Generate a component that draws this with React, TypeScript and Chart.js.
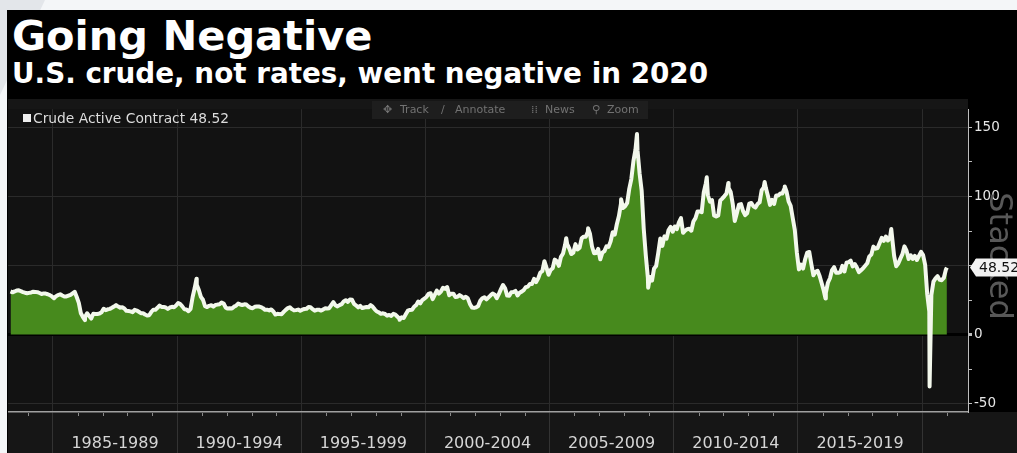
import React, { useEffect, useRef } from "react";
import { Chart, registerables } from "chart.js";

Chart.register(...registerables);

// Monthly WTI front-month prices (USD/bbl)
const wti1983_1984 = [31.2, 30.6, 31.2, 31.9, 32.1, 31.4, 30.8, 30.3, 29.9,
  30.2, 30.5, 31.0, 30.9, 30.7, 30.1, 29.4, 29.8, 29.7, 29.2, 28.6, 27.6];
const wti1985_1989 = [
  26.3, 27.8, 28.6, 29.2, 28.3, 27.6, 27.6, 28.2, 28.8, 29.9, 31.0, 27.2,
  22.9, 15.4, 12.6, 12.8, 15.4, 13.4, 11.6, 15.1, 14.9, 14.9, 15.2, 16.1,
  18.7, 17.7, 18.3, 18.6, 19.4, 20.3, 21.4, 20.3, 19.5, 19.8, 18.9, 17.2,
  17.1, 16.8, 16.2, 17.9, 17.4, 16.5, 15.5, 15.5, 14.5, 13.8, 14.0, 16.3,
  18.0, 17.9, 19.4, 21.0, 20.0, 20.0, 19.6, 18.5, 19.6, 20.1, 19.8, 21.1];
const wti1990_1994 = [
  22.9, 22.1, 20.4, 18.4, 18.2, 16.9, 18.6, 27.2, 33.7, 36.0, 32.3, 27.3,
  25.2, 20.5, 19.9, 20.8, 21.2, 20.2, 21.4, 21.7, 21.9, 23.2, 22.5, 19.5,
  18.8, 19.0, 18.9, 20.2, 20.9, 22.4, 21.8, 21.4, 21.9, 21.7, 20.3, 19.4,
  19.1, 20.1, 20.3, 20.3, 19.9, 19.1, 17.9, 18.0, 17.5, 18.2, 16.7, 14.5,
  15.0, 14.8, 14.7, 16.4, 17.9, 19.1, 19.7, 18.4, 17.5, 17.7, 18.1, 17.2];
const wti1995_1999 = [
  18.0, 18.5, 18.6, 19.9, 19.7, 18.4, 17.3, 17.9, 18.0, 17.4, 18.0, 19.0,
  18.9, 19.1, 21.3, 23.5, 21.2, 20.4, 21.3, 22.0, 24.0, 24.9, 23.7, 25.4,
  25.2, 22.2, 21.0, 19.7, 20.8, 19.2, 19.6, 19.9, 19.8, 21.3, 20.2, 18.3,
  16.7, 16.1, 15.0, 15.4, 14.9, 13.7, 14.2, 13.5, 15.0, 14.4, 12.9, 11.3,
  12.5, 12.0, 14.7, 17.3, 17.8, 17.9, 20.1, 21.3, 23.9, 22.6, 25.0, 26.1];
const wti2000_2004 = [
  27.2, 29.4, 29.9, 25.7, 28.8, 31.8, 29.7, 31.2, 33.9, 33.1, 34.4, 28.5,
  29.6, 29.6, 27.2, 27.4, 28.6, 27.6, 26.4, 27.4, 26.2, 22.2, 19.6, 19.3,
  19.7, 20.7, 24.4, 26.3, 27.0, 25.5, 26.9, 28.4, 29.7, 28.9, 26.3, 29.4,
  32.9, 35.9, 33.5, 28.2, 28.1, 30.7, 30.8, 31.6, 28.3, 30.3, 31.1, 32.2,
  34.3, 34.7, 36.7, 36.7, 40.3, 38.0, 40.7, 44.9, 45.9, 53.1, 48.5, 43.3];
const wti2005_2009 = [
  46.8, 48.0, 54.3, 53.0, 49.8, 56.3, 58.7, 65.0, 65.6, 62.4, 58.3, 59.4,
  65.5, 61.6, 62.9, 69.7, 70.9, 70.9, 74.4, 73.1, 63.8, 58.9, 59.1, 62.0,
  54.5, 59.3, 60.4, 63.9, 63.5, 67.5, 74.1, 72.4, 79.9, 85.8, 94.8, 91.7,
  93.0, 95.4, 105.5, 112.6, 125.4, 133.9, 133.4, 116.7, 104.1, 76.6, 57.3, 41.1,
  41.7, 39.1, 47.9, 49.7, 59.0, 69.6, 64.2, 71.1, 69.4, 75.7, 78.0, 74.5];
const wti2010_2014 = [
  78.3, 76.4, 81.2, 84.3, 73.7, 75.3, 76.3, 76.6, 75.2, 81.9, 84.3, 89.2,
  89.2, 88.6, 102.9, 109.5, 100.9, 96.3, 97.3, 86.3, 85.5, 86.3, 97.2, 98.6,
  100.3, 102.2, 106.2, 103.3, 94.7, 82.3, 87.9, 94.1, 94.5, 89.5, 86.5, 87.9,
  94.8, 95.3, 92.9, 92.0, 94.5, 95.8, 104.6, 106.6, 106.3, 100.5, 93.9, 97.6,
  94.6, 100.8, 100.8, 102.1, 102.2, 105.8, 103.6, 96.5, 93.2, 84.4, 75.8, 59.3];
const wti2015_2019 = [
  47.2, 50.6, 47.8, 54.5, 59.3, 59.8, 50.9, 42.9, 45.5, 46.2, 42.4, 37.2,
  31.7, 30.3, 37.5, 40.8, 46.7, 48.8, 44.7, 44.7, 45.2, 49.8, 45.7, 52.0,
  52.5, 53.5, 49.3, 51.1, 48.5, 45.2, 46.6, 48.0, 49.8, 51.6, 56.6, 57.9,
  63.7, 62.2, 62.7, 66.3, 70.0, 67.9, 71.0, 68.1, 70.2, 70.8, 57.0, 49.5,
  51.4, 55.0, 58.2, 63.9, 60.8, 54.7, 57.4, 54.8, 57.0, 54.0, 57.0, 59.9];
const wti2020 = [57.5, 50.5, 29.2, 16.6, 28.6, 38.3, 40.7, 42.3, 39.6, 39.4, 41.0, 47.0];

// First month of each block (fractional year)
const blockStarts = [1983.25, 1985, 1990, 1995, 2000, 2005, 2010, 2015, 2020];

// Intra-month extremes visible on the chart
const extremeDates = [1986.29, 1990.78, 1998.96, 2005.67, 2006.55, 2007.88, 2008.52, 2008.97,
  2011.33, 2012.2, 2013.66, 2014.47, 2016.11, 2018.76, 2020.303, 2021.0];
const extremeValues = [10.4, 40.4, 10.7, 69.8, 77.0, 98.0, 145.3, 33.9,
  113.9, 109.8, 110.5, 107.3, 26.2, 76.4, -37.6, 48.52];

const lastValue = 48.52;
const seriesLabel = "Crude Active Contract 48.52";

const periodBounds = [1985, 1990, 1995, 2000, 2005, 2010, 2015, 2020];
const periodMids = [1987.5, 1992.5, 1997.5, 2002.5, 2007.5, 2012.5, 2017.5];
const periodLabels = ["1985-1989", "1990-1994", "1995-1999", "2000-2004", "2005-2009", "2010-2014", "2015-2019"];
const yTickValues = [-50, -25, 0, 25, 50, 75, 100, 125, 150];
const yLabelValues = [-50, 0, 50, 100, 150];

const blocks = [wti1983_1984, wti1985_1989, wti1990_1994, wti1995_1999, wti2000_2004,
  wti2005_2009, wti2010_2014, wti2015_2019, wti2020];

function buildPoints() {
  const pts: { x: number; y: number }[] = [];
  blocks.forEach((arr, i) => {
    arr.forEach((v, m) => pts.push({ x: blockStarts[i] + (m + 0.5) / 12, y: v }));
  });
  extremeDates.forEach((d, i) => pts.push({ x: d, y: extremeValues[i] }));
  pts.sort((a, b) => a.x - b.x);
  return pts;
}

const bgPlugin = {
  id: "bgPanels",
  beforeDraw(chart: any) {
    const { ctx, chartArea: a, width, height } = chart;
    ctx.save();
    ctx.fillStyle = "#161616";
    ctx.fillRect(0, 0, width, height);
    ctx.fillStyle = "#000";
    ctx.fillRect(a.right, 0, width - a.right, a.bottom);
    ctx.fillStyle = "#121212";
    ctx.fillRect(a.left, a.top, a.right - a.left, a.bottom - a.top);
    ctx.restore();
  },
};

const overlayPlugin = {
  id: "overlay",
  afterDraw(chart: any) {
    const { ctx, chartArea: a, width } = chart;
    const xs = chart.scales.x;
    const ys = chart.scales.y;
    ctx.save();
    // yearly minor ticks
    ctx.strokeStyle = "#8a8a8a";
    ctx.lineWidth = 1;
    for (let yr = 1984; yr <= 2021; yr++) {
      if (yr % 5 === 0) continue;
      const px = Math.round(xs.getPixelForValue(yr)) + 0.5;
      ctx.beginPath();
      ctx.moveTo(px, a.bottom + 1);
      ctx.lineTo(px, a.bottom + 4);
      ctx.stroke();
    }
    // "Stacked" watermark
    ctx.save();
    ctx.translate(982, 157);
    ctx.rotate(Math.PI / 2);
    ctx.font = '32px "DejaVu Sans"';
    ctx.fillStyle = "#585858";
    ctx.textAlign = "center";
    ctx.textBaseline = "alphabetic";
    ctx.fillText("Stacked", 0, 0);
    ctx.restore();
    // last value tag
    const y = ys.getPixelForValue(lastValue);
    const x0 = a.right + 2;
    ctx.fillStyle = "#f2f2f2";
    ctx.beginPath();
    ctx.moveTo(x0, y);
    ctx.lineTo(x0 + 6, y - 9);
    ctx.lineTo(width, y - 9);
    ctx.lineTo(width, y + 9);
    ctx.lineTo(x0 + 6, y + 9);
    ctx.closePath();
    ctx.fill();
    ctx.fillStyle = "#111";
    ctx.font = '14px "DejaVu Sans"';
    ctx.textBaseline = "middle";
    ctx.textAlign = "left";
    ctx.fillText(lastValue.toFixed(2), x0 + 9, y + 0.5);
    ctx.restore();
  },
};

export default function App() {
  const ref = useRef<HTMLCanvasElement>(null);
  useEffect(() => {
    document.body.style.margin = "0";
    const chart = new Chart(ref.current as HTMLCanvasElement, {
      type: "line",
      data: {
        datasets: [
          {
            label: seriesLabel,
            data: buildPoints(),
            borderColor: "#f3f8ec",
            borderWidth: 4,
            backgroundColor: "#478a1d",
            fill: "origin",
            pointRadius: 0,
            tension: 0,
            borderJoinStyle: "round",
          } as any,
        ],
      },
      options: {
        animation: false,
        responsive: false,
        layout: { padding: 0 },
        plugins: { legend: { display: false }, tooltip: { enabled: false } },
        scales: {
          x: {
            type: "linear",
            min: 1983.19,
            max: 2021.85,
            afterBuildTicks: (scale: any) => {
              const vals = [...periodBounds, ...periodMids].sort((a, b) => a - b);
              scale.ticks = vals.map((v) => ({ value: v }));
            },
            afterFit: (scale: any) => {
              scale.height = 41;
            },
            ticks: {
              autoSkip: false,
              maxRotation: 0,
              padding: -19,
              color: "#d6d6d6",
              font: { family: "DejaVu Sans", size: 16 },
              callback: (value: any) => {
                const i = periodMids.indexOf(Number(value));
                return i >= 0 ? periodLabels[i] : "";
              },
            },
            grid: {
              color: (c: any) => (c.tick && periodBounds.includes(c.tick.value) ? "#2b2b2b" : "rgba(0,0,0,0)"),
              tickColor: (c: any) => (c.tick && periodBounds.includes(c.tick.value) ? "#333" : "rgba(0,0,0,0)"),
              tickLength: 41,
              lineWidth: 1,
            },
            border: { color: "#a0a0a0", width: 1.5 },
          },
          y: {
            type: "linear",
            position: "right",
            min: -56.1,
            max: 163.3,
            afterBuildTicks: (scale: any) => {
              scale.ticks = yTickValues.map((v) => ({ value: v }));
            },
            afterFit: (scale: any) => {
              scale.width = 49;
            },
            ticks: {
              autoSkip: false,
              padding: 2,
              color: "#e6e6e6",
              font: { family: "DejaVu Sans", size: 13.5 },
              callback: (value: any) => (yLabelValues.includes(Number(value)) ? String(value) : ""),
            },
            grid: {
              color: (c: any) => {
                const v = c.tick ? c.tick.value : 1;
                if (v === 0) return "#000";
                return yLabelValues.includes(v) ? "#2a2a2a" : "rgba(0,0,0,0)";
              },
              lineWidth: (c: any) => (c.tick && c.tick.value === 0 ? 3 : 1),
              tickColor: "#bdbdbd",
              tickLength: 4,
            },
            border: { color: "#bdbdbd", width: 1 },
          },
        },
      },
      plugins: [bgPlugin, overlayPlugin],
    } as any);
    return () => chart.destroy();
  }, []);

  const font = '"DejaVu Sans", sans-serif';
  const tool = { position: "absolute" as const, top: 102, color: "#727272", fontSize: 11, lineHeight: "16px", whiteSpace: "nowrap" as const };
  return (
    <div style={{ position: "relative", width: 1017, height: 453, overflow: "hidden", background: "#f4f6f8", fontFamily: font }}>
      <div style={{ position: "absolute", left: 0, top: 0, width: 60, height: 100, background: "#e3e6ea", clipPath: "polygon(0 0, 45px 0, 0 95px)" }} />
      <div style={{ position: "absolute", left: 7, top: 10, right: 0, bottom: 0, background: "#000" }} />
      <div style={{ position: "absolute", left: 12, top: 15, color: "#fff", fontWeight: "bold", fontSize: 41.5, lineHeight: "41px", whiteSpace: "nowrap" }}>
        Going Negative
      </div>
      <div style={{ position: "absolute", left: 12, top: 60, color: "#fff", fontWeight: "bold", fontSize: 27.8, lineHeight: "27.5px", whiteSpace: "nowrap" }}>
        U.S. crude, not rates, went negative in 2020
      </div>
      <canvas ref={ref} width={1009} height={354} style={{ position: "absolute", left: 8, top: 99, width: 1009, height: 354, display: "block" }} />
      <div style={{ position: "absolute", left: 23, top: 114, width: 8, height: 8, background: "#eeeeee" }} />
      <div style={{ position: "absolute", left: 33, top: 110, color: "#dcdcdc", fontSize: 13.8, lineHeight: "16px", whiteSpace: "nowrap" }}>
        {seriesLabel}
      </div>
      <div style={{ position: "absolute", left: 372, top: 101, width: 276, height: 18, background: "#1e1e1e" }} />
      <div style={{ ...tool, left: 383 }}>✥</div>
      <div style={{ ...tool, left: 400 }}>Track</div>
      <div style={{ ...tool, left: 441 }}>∕</div>
      <div style={{ ...tool, left: 455 }}>Annotate</div>
      <div style={{ ...tool, left: 531 }}>⁞⁞</div>
      <div style={{ ...tool, left: 545 }}>News</div>
      <div style={{ ...tool, left: 592 }}>⚲</div>
      <div style={{ ...tool, left: 607 }}>Zoom</div>
    </div>
  );
}
